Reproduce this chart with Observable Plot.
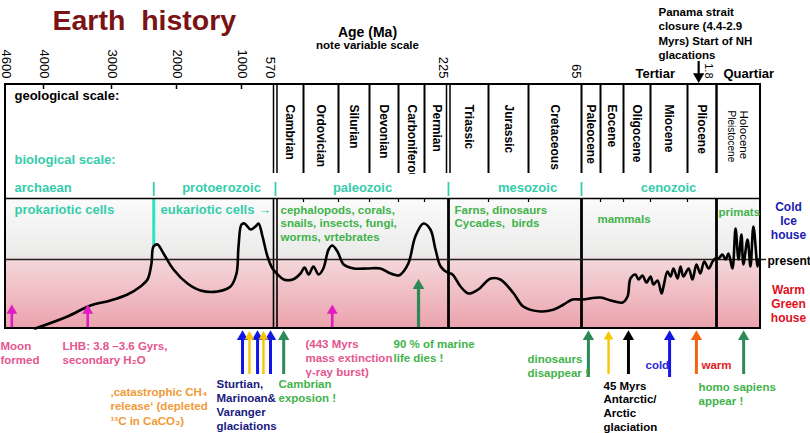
<!DOCTYPE html>
<html><head><meta charset="utf-8">
<script src="https://cdn.jsdelivr.net/npm/d3@7"></script>
<script src="https://cdn.jsdelivr.net/npm/@observablehq/plot@0.6"></script>
<style>body{margin:0;background:#fff} svg{display:block}</style>
</head><body><div id="chart"></div>
<script>
// ---------------- data ----------------
const tickAgesMain = [4600, 4000, 3000, 2000, 1000];
const tickAgesLate = [570, 225, 65];
const tickAgesLast = [1.8];
const periodNames  = ["Cambrian","Ordovician","Silurian","Devonian","Carboniferous","Permian","Triassic","Jurassic","Cretaceous","Paleocene","Eocene","Oligocene","Miocene","Pliocene"];
const periodStarts = [570,505,438,408,360,286,225,190,136,65,54,38,26,7];
const periodEnds   = [505,438,408,360,286,225,190,136,65,54,38,26,7,1.8];
const eraNames  = ["archaean","protoerozoic","paleozoic","mesozoic","cenozoic"];
const eraBounds = [2350, 570, 225, 65];
const majorBounds = [570, 225, 65, 1.8];
const scaleTicks = [4000, 3000, 2000, 1000];
// relative climate index (present = 0, cold up)
const curveAge  = [4130,3647,3309,3015,2754,2554,2446,2385,2354,2292,
  2200,2046,1831,1631,1369,1169,1077,1046,1000,962,
  886,823,785,734,671,608,565,551,530,512,
  503,495,486,476,467,457,450,440,433,423,
  410,390,373,360,354,332,312,289,271,258,
  245,228,221.5,214.5,207.5,199,187,174,156,143,
  120,102,89,77,64.4,54,47,38.6,36.2,34.9,
  32.7,31.3,29.6,27.8,26,24.5,22.4,20.3,19.3,17.3,
  15.7,14.2,12.1,10.6,9.1,6.8,6.1,5.4,4.7,4.0,
  3.2,2.5,2.0,1.72,1.56,1.43,1.31,1.15,1.02,0.90,
  0.78,0.70,0.53,0.41,0.29,0.12,0.08];
const curveTemp = [-6.9,-5.7,-4.6,-4.1,-3.5,-2.7,-2.0,-0.4,1.3,1.5,
  0.6,-1.0,-2.4,-3.1,-3.2,-2.7,-1.4,1.3,3.5,3.6,
  3.0,3.3,3.6,2.3,0.3,-0.9,-1.5,-2.0,-2.0,-1.4,
  -0.8,-1.5,-0.7,-1.5,-0.9,1.0,1.4,0.8,-0.5,-0.9,
  -0.9,-0.9,-1.4,-1.6,-1.5,-0.4,2.3,3.6,3.0,1.0,
  -0.7,-1.3,-1.5,-2.7,-3.4,-3.0,-1.9,-2.0,-3.4,-4.7,
  -5.2,-5.0,-4.5,-4.0,-4.0,-3.8,-4.1,-4.3,-3.7,-1.9,
  -1.5,-2.0,-1.6,-2.3,-1.7,-2.5,-2.1,-3.4,-2.7,-1.2,
  -1.7,-0.9,-1.9,-0.7,-1.7,-0.9,-2.0,-0.5,-1.4,-0.2,
  -0.9,-0.2,0.1,0.1,0.5,0,0.6,-0.9,3.1,0,
  2.5,-0.5,2.0,-0.7,3.3,-0.7,0];
const innerArrowAges = [4500, 3350, 450];
const marineArrowAge = [303];
const lowArrowAges   = [987, 797, 633, 899, 722, 551, 61, 48.4, 35.8, 16.2, 5.4, 0.69];
const lowArrowKinds  = ["blue","blue","blue","yellow","yellow","green","green","yellow","black","blue","orange","green"];
const panamaAge = [5];

// ---------------- layout ----------------
const AGE_BREAKS = [4600,4000,3000,2000,1000,570,505,438,408,360,286,225,190,136,65,54,38,26,7,1.8,0];
const PX_BREAKS  = [5,43,111,176,241,275,303,338,369,398,424,448,488,528,581,600,623,650,687,716,760];
const xs = d3.scaleLinear().domain(AGE_BREAKS).range(PX_BREAKS);
const X = p => xs.invert(p);
const Y = p => (259 - p) / 10;
const F = "Liberation Sans, Arial, Helvetica, sans-serif";
const TEAL = "#35cdab", GREEN = "#3fb34a", PINK = "#e5558f", MAG = "#e21cc4", DGREEN = "#2d8a58";
const KIND = {blue:"#1414e6", yellow:"#f7c600", green:DGREEN, black:"#000", orange:"#f26412"};

const curve = curveAge.map((a, i) => ({age: a, t: curveTemp[i]}));
const periods = periodNames.map((n, i) => ({name: n, s: periodStarts[i], e: periodEnds[i]}));

function lines(arr, px, base, step, o = {}) {
  return Plot.text(arr, {x: X(px), y: (d, i) => Y(base + i * step), text: d => d,
    textAnchor: o.anchor || "start", lineAnchor: "bottom", fontSize: o.size || 11.5,
    fontWeight: o.weight || "bold", fill: o.color || "#000", fontFamily: F});
}
function arrowUp(age, color, tipPx, tailPx, w, r) {
  return [
    Plot.ruleX([age], {x: d => d, y1: Y(tailPx), y2: Y(tipPx + 7), stroke: color, strokeWidth: w}),
    Plot.dot([age], {x: d => d, y: Y(tipPx + 6.2), symbol: "triangle", r: r, fill: color, stroke: "none"})
  ];
}

const marks = [
  Plot.rect([0], {x1: 4600, x2: 0, y1: Y(198), y2: Y(328), fill: "url(#clim)"}),
  Plot.ruleX([eraBounds[0]], {x: d => d, y1: Y(199), y2: Y(246), stroke: "#2de3c2", strokeWidth: 3}),
  Plot.ruleX([570], {x: d => d, y1: Y(198), y2: Y(328), stroke: "#000", strokeWidth: 1.6, dx: -2}),
  Plot.ruleX([570], {x: d => d, y1: Y(198), y2: Y(328), stroke: "#000", strokeWidth: 1.6, dx: 1.5}),
  Plot.ruleX([225, 65, 1.8], {x: d => d, y1: Y(198), y2: Y(328), stroke: "#000", strokeWidth: 2.8}),
  Plot.ruleY([0], {y: d => d, x1: 4600, x2: X(766), stroke: "#222", strokeWidth: 1.3}),
  // geological period boundaries
  Plot.ruleX(periodStarts.filter(a => a !== 570 && a !== 225), {x: d => d, y1: Y(84), y2: Y(173), stroke: "#000", strokeWidth: 2}),
  Plot.ruleX([1.8], {x: d => d, y1: Y(84), y2: Y(173), stroke: "#000", strokeWidth: 2.4}),
  Plot.ruleX([570, 225], {x: d => d, y1: Y(84), y2: Y(173), stroke: "#000", strokeWidth: 1.5, dx: -2}),
  Plot.ruleX([570, 225], {x: d => d, y1: Y(84), y2: Y(173), stroke: "#000", strokeWidth: 1.5, dx: 1.5}),
  Plot.ruleX(scaleTicks, {x: d => d, y1: Y(84), y2: Y(89), stroke: "#000", strokeWidth: 1.5}),
  Plot.ruleX(periodStarts.slice(1).concat([1.8]), {x: d => d, y1: Y(198), y2: Y(202), stroke: "#000", strokeWidth: 1.2}),
  Plot.text(periods, {x: d => (d.s + d.e) / 2, y: Y(104), text: "name", rotate: 90, textAnchor: "start",
    lineAnchor: "middle", fontSize: 12, fontWeight: "bold", fill: "#000", fontFamily: F}),
  Plot.text(["Holocene"], {x: X(743), y: Y(110), text: d => d, rotate: 90, textAnchor: "start", lineAnchor: "middle", fontSize: 11.5, fill: "#000", fontFamily: F}),
  Plot.text(["Pleistocene"], {x: X(731), y: Y(110), text: d => d, rotate: 90, textAnchor: "start", lineAnchor: "middle", fontSize: 10, fill: "#000", fontFamily: F}),
  Plot.rect([0], {x1: 570, x2: 1.8, y1: Y(174), y2: Y(197), fill: "#fff", inset: 0}),
  Plot.ruleY([Y(198)], {y: d => d, x1: 4600, x2: 0, stroke: "#000", strokeWidth: 1.5}),
  Plot.ruleX(eraBounds, {x: d => d, y1: Y(182), y2: Y(196), stroke: TEAL, strokeWidth: 1.8}),
  Plot.rect([0], {x1: 4600, x2: 0, y1: Y(84), y2: Y(328), fill: "none", stroke: "#000", strokeWidth: 2}),
  // climate curve
  Plot.line(curve, {x: "age", y: "t", stroke: "#000", strokeWidth: 2.6, curve: "catmull-rom", strokeLinejoin: "round"}),
  // axis tick labels
  Plot.text(tickAgesMain, {x: d => d, y: Y(78), text: d => String(d), rotate: 90, textAnchor: "end", lineAnchor: "middle", fontSize: 13, fill: "#000", fontFamily: F, dx: 1}),
  Plot.text(tickAgesLate, {x: d => d, y: Y(78), text: d => String(d), rotate: 90, textAnchor: "end", lineAnchor: "middle", fontSize: 13, fill: "#000", fontFamily: F, dx: -5}),
  Plot.text(tickAgesLast, {x: d => d, y: Y(78), text: d => String(d), rotate: 90, textAnchor: "end", lineAnchor: "middle", fontSize: 11, fill: "#000", fontFamily: F, dx: -8}),
  // arrows
  ...innerArrowAges.flatMap(a => arrowUp(a, MAG, 304, 327, 2.6, 4)),
  ...marineArrowAge.flatMap(a => arrowUp(a, DGREEN, 279, 327, 3.2, 4.3)),
  ...lowArrowAges.flatMap((a, i) => arrowUp(a, KIND[lowArrowKinds[i]], 330, i === 6 || i === 9 ? 377 : 374,
      lowArrowKinds[i] === "yellow" ? 2.4 : 3, lowArrowKinds[i] === "yellow" ? 3.6 : 4.2)),
  Plot.ruleX(panamaAge, {x: d => d, y1: Y(61), y2: Y(74), stroke: "#000", strokeWidth: 2.2}),
  Plot.dot(panamaAge, {x: d => d, y: Y(76), symbol: "triangle", rotate: 180, r: 4.2, fill: "#000", stroke: "none"}),
  // titles and labels
  lines(["Earth\u00a0\u00a0history"], 52, 29, 0, {size: 28.5, color: "#7b1214"}),
  lines(["Age (Ma)"], 367, 36, 0, {size: 14, anchor: "middle"}),
  lines(["note variable scale"], 367, 48, 0, {size: 11.5, anchor: "middle"}),
  lines(["Tertiar"], 635, 77, 0, {size: 13}),
  lines(["Quartiar"], 723, 77, 0, {size: 13}),
  lines(["Panama strait", "closure (4.4-2.9", "Myrs) Start of NH", "glacations"], 658, 15, 14.5, {size: 11.5}),
  lines(["geological scale:"], 14, 99, 0, {size: 13}),
  lines(["biological scale:"], 14, 163, 0, {size: 13, color: TEAL}),
  lines([eraNames[0]], 14, 191, 0, {size: 13, color: TEAL}),
  lines([eraNames[1]], 221, 191, 0, {size: 13, color: TEAL, anchor: "middle"}),
  lines([eraNames[2]], 362, 191, 0, {size: 13, color: TEAL, anchor: "middle"}),
  lines([eraNames[3]], 527, 191, 0, {size: 13, color: TEAL, anchor: "middle"}),
  lines([eraNames[4]], 668, 191, 0, {size: 13, color: TEAL, anchor: "middle"}),
  lines(["prokariotic cells"], 14, 213, 0, {size: 13, color: TEAL}),
  lines(["eukariotic cells \u2192"], 160, 213, 0, {size: 13, color: TEAL}),
  lines(["cephalopods, corals,", "snails, insects, fungi,", "worms, vrtebrates"], 280, 213, 13.5, {color: GREEN}),
  lines(["Farns, dinosaurs", "Cycades,  birds"], 454, 213, 13.5, {color: GREEN}),
  lines(["mammals"], 597, 222, 0, {color: GREEN}),
  lines(["primats"], 718, 215, 0, {color: GREEN}),
  lines(["Cold", "Ice", "house"], 788, 210, 14, {size: 12, color: "#1c1cb4", anchor: "middle"}),
  lines(["present"], 767, 264, 0, {size: 12}),
  lines(["Warm", "Green", "house"], 788, 293, 14, {size: 12, color: "#e0101e", anchor: "middle"}),
  lines(["Moon", "formed"], 0, 349, 14, {color: PINK}),
  lines(["LHB: 3.8 \u20133.6 Gyrs,", "secondary H\u2082O"], 62, 349, 14, {color: PINK}),
  lines(["\u201Acatastrophic CH\u2084", "release\u2018 (depleted", "\u00B9\u00B3C in CaCO\u2083)"], 110, 395, 14.5, {color: "#f09a38"}),
  lines(["Sturtian,", "Marinoan&", "Varanger", "glaciations"], 216, 387, 14, {color: "#1a1a80"}),
  lines(["Cambrian", "exposion !"], 278, 387, 14, {color: GREEN}),
  lines(["(443 Myrs", "mass extinction", "\u03B3-ray burst)"], 305, 347, 14, {color: PINK}),
  lines(["90 % of marine", "life dies !"], 393, 347, 14, {color: GREEN}),
  lines(["dinosaurs", "disappear !"], 527, 362, 14, {color: GREEN}),
  lines(["45 Myrs", "Antarctic/", "Arctic", "glaciation"], 603, 389, 13.7, {color: "#000"}),
  lines(["cold"], 645, 368, 0, {color: "#2828d8"}),
  lines(["warm"], 701, 368, 0, {color: "#e0201e"}),
  lines(["homo sapiens", "appear !"], 698, 390, 14, {color: GREEN})
];

const svg = Plot.plot({
  width: 810, height: 433, margin: 0,
  x: {type: "linear", domain: AGE_BREAKS, range: PX_BREAKS, axis: null},
  y: {type: "linear", domain: [Y(433), Y(0)], range: [433, 0], axis: null},
  style: {background: "#fff", fontFamily: F, overflow: "visible"},
  marks
});
const ns = "http://www.w3.org/2000/svg";
const defs = document.createElementNS(ns, "defs");
defs.innerHTML = `<linearGradient id="clim" x1="0" y1="0" x2="0" y2="1">
  <stop offset="0" stop-color="#fbfbfb"/>
  <stop offset="0.44" stop-color="#ebebea"/>
  <stop offset="0.49" stop-color="#f3d6d8"/>
  <stop offset="1" stop-color="#eca2ad"/>
</linearGradient>`;
svg.insertBefore(defs, svg.firstChild);
document.getElementById("chart").appendChild(svg);
</script>
</body></html>
